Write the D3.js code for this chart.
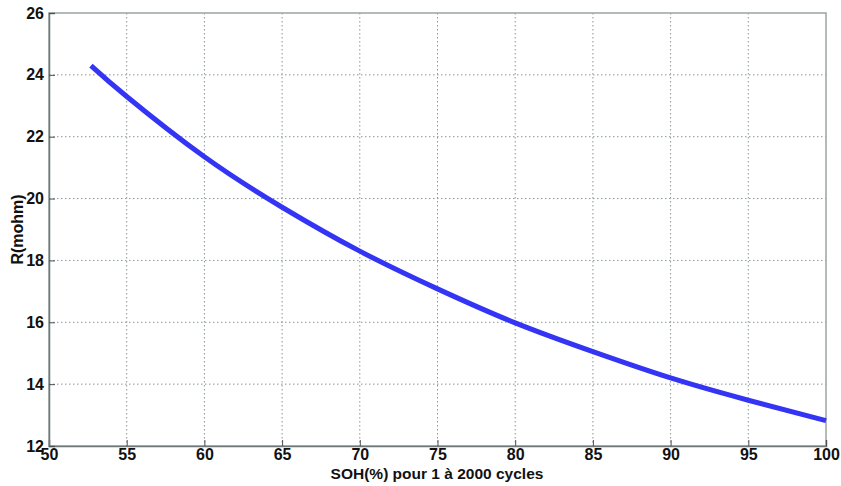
<!DOCTYPE html>
<html>
<head>
<meta charset="utf-8">
<script src="https://cdn.jsdelivr.net/npm/d3@7"></script>
<style>
  body { margin: 0; background: #fff; }
  text { font-family: "Liberation Sans", Arial, sans-serif; font-weight: bold; fill: #111; }
</style>
</head>
<body>
<svg id="chart" width="841" height="486"></svg>
<script>
// DATA
// ========================================================================
var soh = [52.7, 55, 60, 65, 70, 75, 80, 85, 90, 95, 100];
var resistance = [24.3, 23.3, 21.35, 19.72, 18.3, 17.08, 15.98, 15.05, 14.2, 13.48, 12.82];
var x_ticks = [50, 55, 60, 65, 70, 75, 80, 85, 90, 95, 100];
var y_ticks = [12, 14, 16, 18, 20, 22, 24, 26];
var x_label = "SOH(%) pour 1 à 2000 cycles";
var y_label = "R(mohm)";
// ========================================================================

var margin = {"left": 49, "top": 13, "right": 15, "bottom": 40};
var width = 841 - margin.left - margin.right;
var height = 486 - margin.top - margin.bottom;

var svg = d3.select("#chart");
var g = svg.append("g")
            .attr("transform", "translate(" + margin.left + "," + margin.top + ")");

var x = d3.scaleLinear().domain([50, 100]).range([0, width]);
var y = d3.scaleLinear().domain([12, 26]).range([height, 0]);

// grid
g.selectAll(".vgrid").data(x_ticks.slice(1, -1)).enter()
  .append("line")
    .attr("x1", function(d) { return x(d); })
    .attr("x2", function(d) { return x(d); })
    .attr("y1", 0).attr("y2", height)
    .style("stroke", "#8a9696").style("stroke-width", 1)
    .style("stroke-dasharray", "1.5,2.5");

g.selectAll(".hgrid").data(y_ticks.slice(1, -1)).enter()
  .append("line")
    .attr("y1", function(d) { return y(d); })
    .attr("y2", function(d) { return y(d); })
    .attr("x1", 0).attr("x2", width)
    .style("stroke", "#8a9696").style("stroke-width", 1)
    .style("stroke-dasharray", "1.5,2.5");

// frame
g.append("rect")
  .attr("width", width).attr("height", height)
  .style("fill", "none").style("stroke", "#9aa4a4").style("stroke-width", 1.5);

// axes
var x_axis = d3.axisBottom(x).tickValues(x_ticks).tickSize(-6).tickPadding(3);
var y_axis = d3.axisLeft(y).tickValues(y_ticks).tickSize(-6).tickPadding(5);

var gx = g.append("g").attr("transform", "translate(0," + height + ")").call(x_axis);
var gy = g.append("g").call(y_axis);

[gx, gy].forEach(function(a) {
  a.select(".domain").style("stroke", "#6e7878").style("stroke-width", 1.5);
  a.selectAll(".tick line").style("stroke", "#4a5050");
  a.selectAll("text").style("font-size", "16px").style("font-family", "Liberation Sans, Arial, sans-serif")
    .style("font-weight", "bold").style("fill", "#111");
});

// curve
var line = d3.line()
  .x(function(d) { return x(d[0]); })
  .y(function(d) { return y(d[1]); })
  .curve(d3.curveNatural);

g.append("path")
  .datum(d3.zip(soh, resistance))
  .attr("d", line)
  .style("fill", "none")
  .style("stroke", "#3434f4")
  .style("stroke-width", 5);

// labels
svg.append("text")
  .attr("x", 437)
  .attr("y", 479)
  .attr("text-anchor", "middle")
  .style("font-size", "15.5px")
  .text(x_label);

svg.append("text")
  .attr("transform", "translate(23," + (margin.top + height / 2) + ") rotate(-90)")
  .attr("text-anchor", "middle")
  .style("font-size", "16px")
  .text(y_label);
</script>
</body>
</html>
